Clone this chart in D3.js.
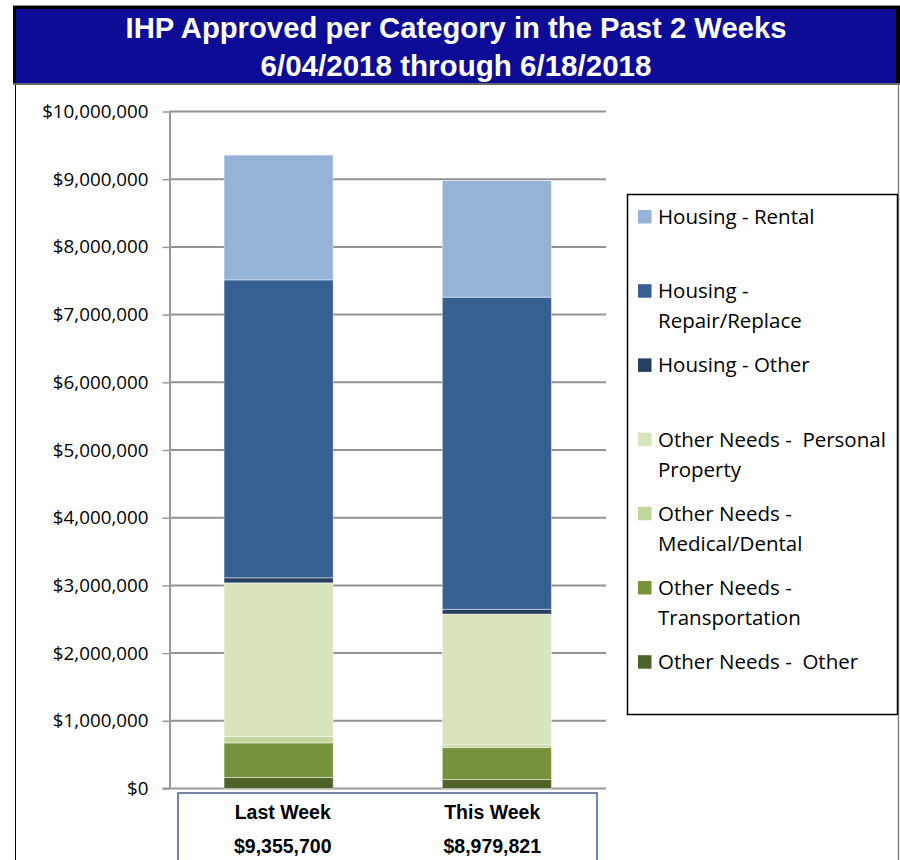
<!DOCTYPE html>
<html>
<head>
<meta charset="utf-8">
<script src="https://cdn.jsdelivr.net/npm/d3@7.9.0/dist/d3.min.js"></script>
<style>
  body { margin: 0; background: #fff; }
  svg { display: block; }
</style>
</head>
<body>
<div id="chart"></div>
<script>
// data (series listed bottom to top of the stack)
const categories = ["Last Week", "This Week"];
const seriesNames = [
  "Other Needs -  Other",
  "Other Needs -\nTransportation",
  "Other Needs -\nMedical/Dental",
  "Other Needs -  Personal\nProperty",
  "Housing - Other",
  "Housing -\nRepair/Replace",
  "Housing - Rental"
];
const lastWeek = [162000, 512000, 93000, 2271000, 74000, 4401000, 1842700];
const thisWeek = [133000, 472000, 40000, 1932000, 69000, 4611000, 1722821];
const seriesColors = ["#4f6228", "#77933c", "#c3d69b", "#d8e4bc", "#243f60", "#366092", "#95b3d7"];
const titleLines = ["IHP Approved per Category in the Past 2 Weeks", "6/04/2018 through 6/18/2018"];

const W = 900, H = 860;
const svg = d3.select("#chart").append("svg").attr("width", W).attr("height", H);

// outer frame of the chart area
svg.append("line").attr("x1", 15.5).attr("x2", 15.5).attr("y1", 84).attr("y2", H)
  .attr("stroke", "#000").attr("stroke-width", 1);
svg.append("line").attr("x1", 898.5).attr("x2", 898.5).attr("y1", 84).attr("y2", H)
  .attr("stroke", "#888").attr("stroke-width", 1.5);

// title banner
svg.append("rect").attr("x", 13).attr("y", 5).attr("width", 887).attr("height", 80).attr("fill", "#000");
svg.append("line").attr("x1", 13).attr("x2", 900).attr("y1", 5.5).attr("y2", 5.5).attr("stroke", "#888");
svg.append("rect").attr("x", 16).attr("y", 9).attr("width", 880).attr("height", 74).attr("fill", "#0c0c97");
svg.append("line").attr("x1", 13).attr("x2", 900).attr("y1", 84).attr("y2", 84)
  .attr("stroke", "#666").attr("stroke-width", 2);

const titleLen = [661, 391];
svg.selectAll(".title").data(titleLines).enter().append("text")
  .attr("class", "title")
  .attr("x", 456)
  .attr("y", (d, i) => i === 0 ? 38 : 76)
  .attr("text-anchor", "middle")
  .attr("fill", "#fff")
  .attr("font-family", "'Liberation Sans', Arial, sans-serif")
  .attr("font-weight", "bold")
  .attr("font-size", 30)
  .attr("textLength", (d, i) => titleLen[i])
  .attr("lengthAdjust", "spacingAndGlyphs")
  .text(d => d);

// scales
const y = d3.scaleLinear().domain([0, 10000000]).range([788.5, 111.5]);
const x = d3.scaleBand().domain(categories).range([169.5, 606]).paddingInner(0.5).paddingOuter(0.25);

// gridlines
svg.append("g").selectAll("line").data(y.ticks(10).filter(d => d > 0)).enter().append("line")
  .attr("x1", 169.5).attr("x2", 606)
  .attr("y1", d => y(d)).attr("y2", d => y(d))
  .attr("stroke", "#929292").attr("stroke-width", 2);

// y axis
const yAxis = svg.append("g")
  .attr("transform", "translate(169.5,0)")
  .call(d3.axisLeft(y).ticks(10).tickFormat(d3.format("$,")).tickSize(7).tickPadding(14).tickSizeOuter(0));
yAxis.select(".domain").attr("stroke", "#999").attr("stroke-width", 2);
yAxis.selectAll(".tick line").attr("stroke", "#999").attr("stroke-width", 1.5);
yAxis.selectAll(".tick text")
  .attr("font-family", "'Open Sans', sans-serif")
  .attr("font-size", 18.8)
  .attr("fill", "#000");

// x axis baseline
svg.append("line").attr("x1", 162.5).attr("x2", 606).attr("y1", y(0)).attr("y2", y(0))
  .attr("stroke", "#999").attr("stroke-width", 2);

// stacked bars
const rows = categories.map((c, i) => {
  const row = { category: c };
  seriesNames.forEach((s, j) => { row[s] = (i === 0 ? lastWeek : thisWeek)[j]; });
  return row;
});
const stacked = d3.stack().keys(seriesNames)(rows);

svg.append("g").selectAll("g").data(stacked).enter().append("g")
  .attr("fill", (d, i) => seriesColors[i])
  .selectAll("rect").data(d => d).enter().append("rect")
  .attr("x", d => x(d.data.category))
  .attr("width", x.bandwidth())
  .attr("y", d => y(d[1]))
  .attr("height", d => y(d[0]) - y(d[1]))
  .attr("stroke", "rgba(255,255,255,0.45)")
  .attr("stroke-width", 1);

// category / total table under the plot
const tableX = d3.scaleBand().domain(categories).range([178, 597]);
svg.append("rect").attr("x", 178).attr("y", 793).attr("width", 419).attr("height", 90)
  .attr("fill", "none").attr("stroke", "#41608f").attr("stroke-width", 1.5);
const totals = [d3.sum(lastWeek), d3.sum(thisWeek)];
const table = svg.append("g")
  .attr("font-family", "'Liberation Sans', Arial, sans-serif")
  .attr("font-weight", "bold")
  .attr("font-size", 19.5)
  .attr("text-anchor", "middle")
  .attr("fill", "#000");
table.selectAll(".cat").data(categories).enter().append("text")
  .attr("x", d => tableX(d) + tableX.bandwidth() / 2)
  .attr("y", 819)
  .text(d => d);
table.selectAll(".tot").data(totals).enter().append("text")
  .attr("x", (d, i) => tableX(categories[i]) + tableX.bandwidth() / 2)
  .attr("y", 853)
  .text(d => d3.format("$,")(d));

// legend
svg.append("rect").attr("x", 627.5).attr("y", 194.5).attr("width", 270).attr("height", 520)
  .attr("fill", "#fff").attr("stroke", "#000").attr("stroke-width", 1.5);
const legendOrder = d3.range(seriesNames.length).reverse();
const legendItems = svg.append("g").selectAll("g").data(legendOrder).enter().append("g")
  .attr("transform", (d, i) => `translate(638,${224 + i * 74.2})`);
legendItems.append("rect")
  .attr("x", 0).attr("y", -14).attr("width", 13.5).attr("height", 13.5)
  .attr("fill", d => seriesColors[d]);
legendItems.append("text")
  .attr("font-family", "'Open Sans', sans-serif")
  .attr("font-size", 20.5)
  .attr("fill", "#000")
  .style("white-space", "pre")
  .selectAll("tspan").data(d => seriesNames[d].split("\n")).enter().append("tspan")
  .attr("x", 20)
  .attr("y", (d, i) => i * 30)
  .text(d => d);
</script>
</body>
</html>
